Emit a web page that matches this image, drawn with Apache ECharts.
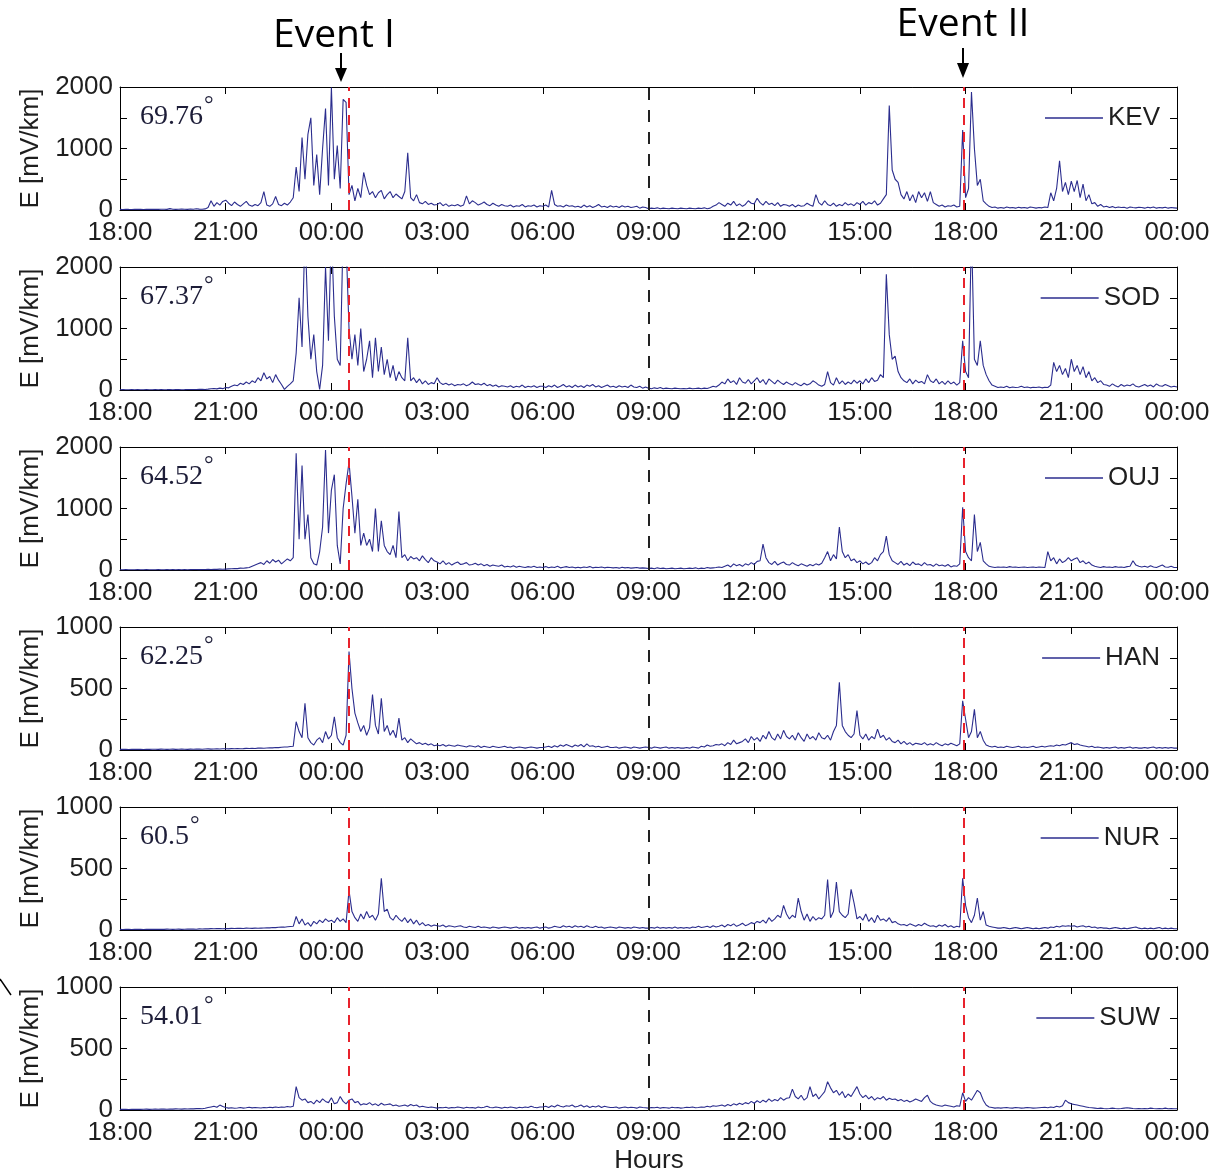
<!DOCTYPE html>
<html>
<head>
<meta charset="utf-8">
<title>Geoelectric field</title>
<script src="https://cdn.jsdelivr.net/npm/echarts@6/dist/echarts.min.js"></script>
<style>
  html, body { margin: 0; padding: 0; background: #fff; }
  #chart { width: 1220px; height: 1173px; }
</style>
</head>
<body>
<div id="chart"></div>
<script>
// samples every 5 minutes, x = minutes after 18:00 UT
const stepMin = 5
const tickLabels = ['18:00', '21:00', '00:00', '03:00', '06:00', '09:00', '12:00', '15:00', '18:00', '21:00', '00:00']
const stations = ['KEV', 'SOD', 'OUJ', 'HAN', 'NUR', 'SUW']
const latitudes = ['69.76', '67.37', '64.52', '62.25', '60.5', '54.01']
const yMax = [2000, 2000, 2000, 1000, 1000, 1000]
const eventMarks = [390, 1436]
const midMark = 900

const kev = [
  10,8,12,10,9,11,10,12,9,10,11,10,
  12,10,11,13,10,22,12,10,11,14,12,10,
  15,12,20,14,12,18,40,150,60,120,80,140,
  160,110,70,130,90,60,100,140,80,60,90,70,
  120,300,80,60,100,220,90,70,110,80,130,200,
  700,300,1180,500,1230,1500,400,900,250,1000,1650,400,
  1990,500,1050,350,1800,1750,250,400,150,350,200,610,
  400,250,300,200,280,320,180,250,300,200,260,220,
  180,300,930,200,150,250,120,100,140,90,110,80,
  90,120,70,100,60,80,70,90,60,80,230,100,
  150,120,80,100,130,90,70,110,80,60,90,70,
  60,80,50,70,60,90,50,70,60,80,50,70,
  60,80,50,320,90,60,70,50,80,60,70,50,
  60,40,80,50,70,40,60,90,50,60,40,70,
  50,60,40,70,50,60,40,50,60,30,50,40,
  20,30,25,35,20,30,25,20,30,25,20,30,
  25,20,30,25,20,30,25,35,20,30,60,80,
  120,90,60,110,80,140,70,100,60,90,150,110,
  100,190,120,80,140,90,110,70,120,60,90,80,
  60,90,50,80,60,70,110,80,60,250,120,80,
  150,90,70,110,60,90,70,120,80,100,70,120,
  90,140,80,120,100,150,80,110,180,250,1700,650,
  500,450,250,180,300,150,250,120,300,200,280,140,
  300,120,90,60,80,50,70,60,80,50,60,1300,
  200,350,1920,1000,400,500,150,100,60,40,50,30,
  40,30,50,35,40,30,45,35,40,30,50,40,
  30,40,35,50,40,280,150,350,800,300,450,250,
  470,300,480,200,420,150,250,100,120,60,90,50,
  60,40,55,35,50,40,45,30,50,40,35,45,
  40,30,45,35,50,30,40,35,45,30,40,35,
  30
]
const sod = [
  5,6,4,5,7,5,6,4,5,6,5,4,
  6,5,7,5,6,8,5,6,7,5,6,8,
  7,9,8,10,12,9,14,20,25,18,30,22,
  40,35,60,80,70,110,90,130,100,150,120,200,
  150,280,180,220,120,250,160,90,10,60,100,150,
  600,1500,700,2600,1200,500,900,300,10,400,2000,800,
  2600,1200,500,400,2600,2400,1000,500,900,400,1000,300,
  500,800,200,850,300,700,250,500,200,400,150,300,
  200,150,850,150,200,120,180,100,150,90,120,100,
  200,120,90,110,80,100,70,90,80,100,70,90,
  130,90,100,80,110,70,90,60,80,50,70,60,
  50,70,40,60,50,80,40,60,50,70,40,60,
  60,40,70,50,80,40,60,90,50,70,40,80,
  50,70,40,80,60,90,50,70,40,60,80,50,
  60,40,70,50,60,40,80,50,40,60,30,50,
  30,20,35,25,40,20,30,25,20,30,25,20,
  25,20,30,20,25,30,20,30,25,40,60,50,
  80,130,100,180,120,150,90,200,130,110,170,100,
  150,200,120,170,90,180,140,100,160,120,90,130,
  100,80,120,90,70,110,80,100,150,120,80,60,
  90,300,120,80,200,100,150,90,130,100,160,110,
  150,100,180,120,200,140,160,250,200,1880,900,500,
  550,300,200,150,120,180,100,160,120,140,100,250,
  150,120,180,100,140,90,150,100,130,80,120,800,
  300,200,2600,500,400,800,400,250,150,80,60,40,
  50,40,60,35,50,40,45,60,40,50,35,45,
  40,50,35,45,40,80,450,300,400,250,350,200,
  500,300,400,250,380,200,300,150,200,120,150,90,
  80,60,100,70,50,90,60,80,70,100,60,50,
  70,90,60,80,50,100,70,60,90,70,50,60,
  50
]
const ouj = [
  5,4,6,5,4,5,6,4,5,6,5,4,
  5,6,5,4,6,5,7,5,6,5,6,5,
  6,7,8,6,9,8,10,9,12,10,14,12,
  15,18,20,25,22,30,28,35,40,60,80,100,
  120,90,150,110,170,130,160,100,140,180,150,200,
  1900,500,1700,500,900,200,100,80,300,700,1950,600,
  1300,1550,400,100,1000,1400,1750,1200,600,1150,400,600,
  400,500,300,1000,300,800,400,300,250,400,200,950,
  200,250,150,220,180,200,150,230,170,120,200,150,
  130,100,150,90,120,80,110,130,90,100,120,80,
  90,110,80,100,70,90,60,80,70,60,80,50,
  60,50,70,45,60,50,40,55,45,60,40,50,
  40,55,35,50,40,60,35,45,55,40,50,35,
  45,35,50,40,55,35,45,40,50,35,45,40,
  35,40,30,45,35,40,30,35,40,30,35,30,
  25,30,20,35,25,30,20,25,30,20,25,30,
  20,25,30,25,35,20,30,25,40,30,35,40,
  50,40,60,80,50,100,70,90,60,100,80,120,
  90,140,150,420,200,120,90,140,80,110,130,90,
  80,120,90,70,100,80,60,90,70,100,80,110,
  200,300,150,250,180,700,300,200,250,150,180,120,
  150,100,130,90,120,200,150,250,300,550,250,150,
  120,90,140,80,110,70,130,90,100,70,120,80,
  90,60,100,70,80,60,90,50,70,60,100,1020,
  300,200,150,900,300,450,150,100,60,50,40,50,
  45,50,40,55,45,50,40,45,50,40,45,50,
  40,50,45,40,300,150,200,100,180,120,150,200,
  150,180,200,120,150,100,130,80,60,50,40,55,
  45,50,40,55,45,50,40,55,60,150,80,60,
  50,60,45,70,50,40,60,80,50,45,60,40,
  40
]
const han = [
  5,6,5,4,6,5,6,5,4,6,5,6,
  6,5,7,6,5,6,7,5,6,7,6,5,
  7,6,8,7,6,8,9,7,8,9,8,10,
  10,9,11,10,12,10,11,13,12,14,12,15,
  15,14,16,18,17,20,19,22,24,25,28,30,
  230,150,100,380,100,60,40,80,100,60,150,90,
  120,270,100,60,40,120,800,500,300,220,150,200,
  120,180,450,200,130,420,150,200,120,160,100,260,
  80,100,60,90,70,50,60,45,55,40,50,35,
  40,35,45,30,40,35,30,40,35,30,25,35,
  30,25,35,20,30,25,20,30,25,20,25,30,
  20,25,15,20,25,20,15,20,25,20,15,20,
  20,25,30,20,35,25,40,30,45,35,25,40,
  30,45,25,50,30,35,25,30,20,25,30,20,
  20,25,15,20,25,20,15,25,20,15,20,25,
  20,15,25,20,15,20,25,15,20,15,20,15,
  15,20,15,25,20,15,30,25,40,30,35,45,
  40,50,35,60,45,80,50,60,70,90,60,110,
  80,100,70,120,90,150,100,80,130,90,160,110,
  90,120,80,140,100,70,130,90,110,80,140,100,
  90,120,80,150,200,550,200,150,120,100,130,320,
  120,90,130,80,110,90,170,100,120,80,100,70,
  60,80,50,70,45,60,40,55,50,45,60,40,
  50,40,60,45,35,50,40,55,45,35,50,400,
  250,100,150,330,100,150,80,40,30,25,30,20,
  25,20,30,25,20,25,30,20,25,20,25,30,
  20,25,30,25,30,35,30,40,35,45,40,50,
  60,45,50,40,35,30,25,30,20,25,20,15,
  20,15,20,25,15,20,15,20,25,15,20,15,
  15,20,15,20,25,15,20,15,20,15,20,15,
  15
]
const nur = [
  5,4,5,6,4,5,6,5,4,5,6,5,
  6,5,6,5,7,6,5,6,7,5,6,7,
  7,8,6,9,8,10,9,11,10,12,11,10,
  12,11,13,12,14,13,12,15,14,13,15,14,
  15,16,18,17,20,19,22,24,23,26,28,30,
  110,50,90,40,60,30,70,50,80,60,90,70,
  80,60,100,70,90,60,320,150,100,70,130,90,
  150,100,120,80,130,420,150,170,100,80,120,90,
  70,100,60,90,50,80,40,60,35,45,30,40,
  35,30,40,25,35,30,25,30,35,25,20,30,
  25,20,30,20,25,20,15,25,20,15,20,25,
  20,15,20,25,15,20,15,20,15,20,25,15,
  20,25,15,20,30,25,20,35,25,30,20,35,
  25,30,20,35,25,20,30,20,25,15,20,25,
  20,15,25,20,15,20,15,25,20,15,20,15,
  15,20,15,25,15,20,15,20,15,25,15,20,
  15,20,15,25,20,30,20,25,30,20,35,25,
  30,40,25,45,35,50,30,40,55,35,45,60,
  50,70,60,80,55,100,70,90,120,100,200,130,
  90,120,100,260,150,80,130,70,110,80,100,90,
  120,410,100,150,390,150,120,100,130,330,220,90,
  110,80,130,70,100,60,120,80,90,70,100,60,
  70,50,40,45,35,50,40,30,45,35,55,40,
  30,35,25,40,30,45,25,35,20,30,25,420,
  200,100,60,120,260,80,150,40,30,25,20,15,
  15,20,15,10,15,20,15,10,15,20,15,10,
  15,10,15,20,15,25,20,30,25,35,30,35,
  30,35,25,30,35,25,30,20,25,15,20,15,
  15,10,15,20,15,10,15,10,15,20,25,15,
  10,15,10,15,10,15,20,10,15,10,15,10,
  10
]
const suw = [
  5,6,5,4,6,5,6,5,6,7,5,6,
  7,6,8,7,6,8,7,9,8,7,9,8,
  10,9,11,12,10,14,20,25,30,22,40,28,
  20,15,18,14,16,20,15,18,22,17,20,18,
  16,20,18,22,19,24,20,25,22,28,25,30,
  190,100,80,90,60,70,50,80,60,90,70,60,
  100,50,60,110,70,50,80,90,60,70,40,50,
  45,60,40,50,35,55,40,45,50,35,40,30,
  35,40,30,45,35,40,25,30,25,20,25,20,
  15,20,18,22,15,20,18,25,20,15,22,18,
  20,15,25,18,22,30,20,18,25,20,15,22,
  18,25,20,15,22,18,25,20,30,22,18,25,
  25,30,20,35,25,40,30,25,35,30,40,25,
  30,40,25,35,20,30,25,35,20,30,25,20,
  20,25,15,20,25,18,22,20,15,25,20,18,
  15,20,18,22,15,20,18,15,22,18,20,15,
  18,22,20,25,18,20,25,22,30,25,35,30,
  35,40,30,45,35,50,40,55,45,60,50,70,
  55,75,60,80,65,90,70,85,75,100,80,95,
  100,170,110,90,120,80,100,190,110,130,90,120,
  150,230,180,140,160,120,150,100,130,110,150,190,
  130,100,120,90,110,80,100,90,110,80,95,85,
  90,75,85,70,80,65,75,90,80,70,100,120,
  70,50,40,35,30,40,35,30,25,35,30,140,
  70,100,80,120,160,140,80,40,25,20,15,18,
  15,18,20,16,15,20,18,15,17,20,18,15,
  16,18,20,22,18,25,20,30,25,35,80,60,
  50,45,40,35,30,25,20,18,15,12,15,12,
  10,12,15,12,10,12,15,18,15,12,10,12,
  10,12,10,15,12,10,12,10,15,10,12,10,
  10
]
const stationData = [kev, sod, ouj, han, nur, suw]

const sansFont = '"Liberation Sans", Arial, Helvetica, sans-serif'
const serifFont = '"Liberation Serif", "Times New Roman", serif'
const lineBlue = '#2b2d8e'
const textColor = '#1e1e1e'

const chart = echarts.init(document.getElementById('chart'))

const measureCtx = document.createElement('canvas').getContext('2d')
measureCtx.font = '28px "Liberation Serif"'

const grids = []
const xAxes = []
const yAxes = []
const series = []
const legends = []
const graphics = []

stations.forEach((name, i) => {
  const top = 87 + 180 * i
  grids.push({ left: 120, right: 43, top: top, height: 123 })

  const tick = { show: true, inside: true, length: 7, lineStyle: { color: '#000', width: 1 } }
  const line = { show: true, onZero: false, lineStyle: { color: '#000', width: 1 } }

  xAxes.push({
    type: 'value', gridIndex: i, position: 'bottom', min: 0, max: 1800, interval: 180,
    axisLine: line, axisTick: tick, splitLine: { show: false },
    axisLabel: {
      fontSize: 26, fontFamily: sansFont, color: textColor, margin: 10,
      formatter: (v) => tickLabels[Math.round(v / 180)],
    },
  })
  xAxes.push({
    type: 'value', gridIndex: i, position: 'top', min: 0, max: 1800, interval: 180,
    axisLine: line, axisTick: tick, splitLine: { show: false }, axisLabel: { show: false },
  })

  const half = yMax[i] / 2
  yAxes.push({
    type: 'value', gridIndex: i, position: 'left', min: 0, max: yMax[i], interval: yMax[i] / 4,
    axisLine: line, axisTick: tick, splitLine: { show: false },
    axisLabel: {
      fontSize: 26, fontFamily: sansFont, color: textColor, margin: 7,
      formatter: (v) => (v % half === 0 ? String(v) : ''),
    },
    name: 'E [mV/km]', nameLocation: 'middle', nameGap: 76, nameRotate: 90,
    nameTextStyle: { fontSize: 26, fontFamily: sansFont, color: textColor },
  })
  yAxes.push({
    type: 'value', gridIndex: i, position: 'right', min: 0, max: yMax[i], interval: yMax[i] / 4,
    axisLine: line, axisTick: tick, splitLine: { show: false }, axisLabel: { show: false },
  })

  const dash = (x, color, pattern) => ({
    xAxis: x,
    lineStyle: { color: color, width: 2, type: pattern },
  })

  series.push({
    name: name,
    type: 'line',
    xAxisIndex: 2 * i,
    yAxisIndex: 2 * i,
    data: stationData[i].map((v, j) => [j * stepMin, v]),
    symbol: 'none',
    clip: true,
    lineStyle: { color: lineBlue, width: 1.1 },
    itemStyle: { color: lineBlue },
    markLine: {
      silent: true,
      symbol: 'none',
      animation: false,
      label: { show: false },
      data: [
        dash(eventMarks[0], '#e8222c', [10, 7]),
        dash(eventMarks[1], '#e8222c', [10, 7]),
        dash(midMark, '#222', [12, 10]),
      ],
    },
  })

  legends.push({
    data: [name],
    icon: 'rect',
    right: 60,
    top: top + 18,
    padding: 0,
    itemWidth: 58,
    itemHeight: 1.5,
    textStyle: { fontSize: 26, fontFamily: sansFont, color: textColor },
  })

  const lat = latitudes[i]
  const w = measureCtx.measureText(lat).width
  graphics.push({
    type: 'text', left: 140, top: top + 16,
    style: { text: lat, fontSize: 28, fontFamily: serifFont, fill: '#1d1d38' },
  })
  graphics.push({
    type: 'text', left: 140 + w + 1, top: top + 7,
    style: { text: '°', fontSize: 24, fontFamily: serifFont, fill: '#1d1d38' },
  })
})

// annotations above the first panel
graphics.push(
  { type: 'text', x: 334, y: 36, style: { text: 'Event I', fontSize: 39, fontFamily: '"Open Sans", sans-serif', fill: '#000', align: 'center', verticalAlign: 'middle' } },
  { type: 'line', shape: { x1: 341, y1: 53, x2: 341, y2: 70 }, style: { stroke: '#000', lineWidth: 2 } },
  { type: 'polygon', shape: { points: [[335, 68], [347, 68], [341, 82]] }, style: { fill: '#000' } },
  { type: 'text', x: 963, y: 25, style: { text: 'Event II', fontSize: 39, fontFamily: '"Open Sans", sans-serif', fill: '#000', align: 'center', verticalAlign: 'middle' } },
  { type: 'line', shape: { x1: 963, y1: 48, x2: 963, y2: 64 }, style: { stroke: '#000', lineWidth: 2 } },
  { type: 'polygon', shape: { points: [[957, 63], [969, 63], [963, 78]] }, style: { fill: '#000' } },
  { type: 'text', x: 649, y: 1161, style: { text: 'Hours', fontSize: 26, fontFamily: sansFont, fill: textColor, align: 'center', verticalAlign: 'middle' } },
  { type: 'line', shape: { x1: 0, y1: 979, x2: 11, y2: 995 }, style: { stroke: '#000', lineWidth: 1.5 } }
)

chart.setOption({
  animation: false,
  backgroundColor: '#fff',
  grid: grids,
  xAxis: xAxes,
  yAxis: yAxes,
  legend: legends,
  series: series,
  graphic: graphics,
})
</script>
</body>
</html>
